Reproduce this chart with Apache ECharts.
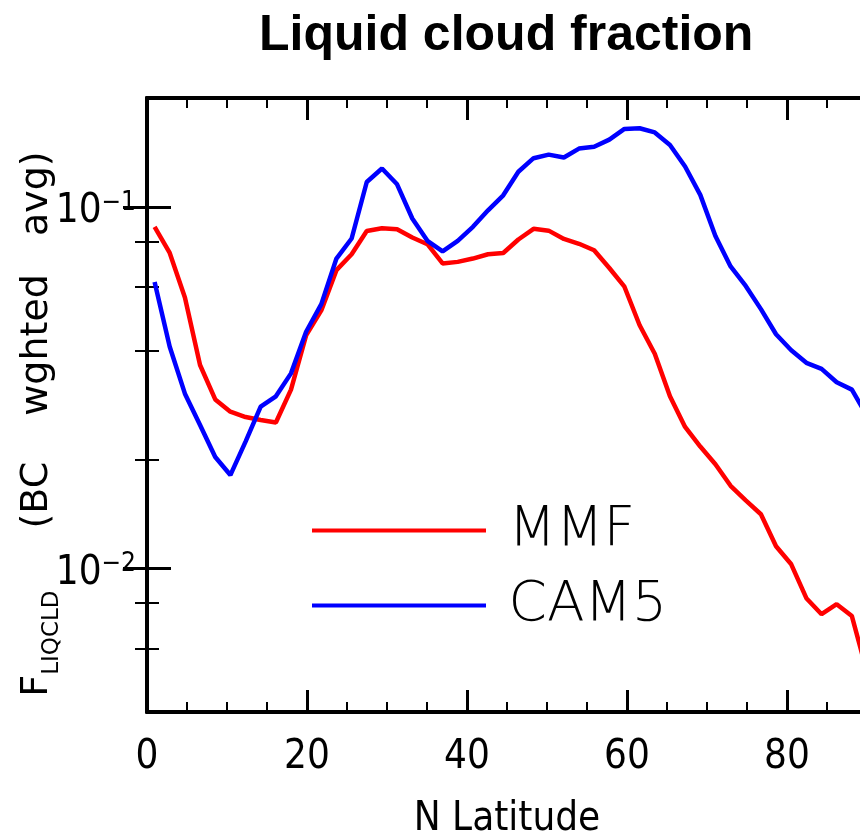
<!DOCTYPE html>
<html>
<head>
<meta charset="utf-8">
<title>Liquid cloud fraction</title>
<script src="https://cdn.jsdelivr.net/npm/echarts@6/dist/echarts.min.js"></script>
<style>
  html, body { margin: 0; padding: 0; background: #ffffff; }
  #chart { width: 860px; height: 836px; }
</style>
</head>
<body>
<div id="chart"></div>
<script>
// Latitude centres (degrees N) of the model grid rows
const lat = [0.95, 2.84, 4.74, 6.63, 8.53, 10.42, 12.32, 14.21, 16.11, 18.00,
  19.89, 21.79, 23.68, 25.58, 27.47, 29.37, 31.26, 33.16, 35.05, 36.95,
  38.84, 40.74, 42.63, 44.53, 46.42, 48.32, 50.21, 52.11, 54.00, 55.89,
  57.79, 59.68, 61.58, 63.47, 65.37, 67.26, 69.16, 71.05, 72.95, 74.84,
  76.74, 78.63, 80.53, 82.42, 84.32, 86.21, 88.11, 90.00];

// BC-weighted liquid cloud fraction, multiscale modelling framework run
const mmf = [0.0880, 0.0745, 0.0561, 0.0365, 0.0293, 0.0271, 0.0262, 0.0257, 0.0253, 0.0312,
  0.0441, 0.0517, 0.0668, 0.0739, 0.0857, 0.0872, 0.0867, 0.0822, 0.0788, 0.0697,
  0.0704, 0.0719, 0.0739, 0.0745, 0.0812, 0.0869, 0.0859, 0.0815, 0.0790, 0.0758,
  0.0677, 0.0601, 0.0470, 0.0392, 0.0299, 0.0246, 0.0217, 0.0194, 0.0169, 0.0154,
  0.0141, 0.0115, 0.01025, 0.00826, 0.00746, 0.00795, 0.00737, 0.00516];

// BC-weighted liquid cloud fraction, CAM5 run
const cam5 = [0.0619, 0.0410, 0.0304, 0.0249, 0.0203, 0.0181, 0.0224, 0.0280, 0.0299, 0.0346,
  0.0451, 0.0538, 0.0719, 0.0817, 0.1171, 0.1276, 0.1154, 0.0928, 0.0805, 0.0753,
  0.0805, 0.0880, 0.0978, 0.1076, 0.1250, 0.1363, 0.1394, 0.1369, 0.1449, 0.1466,
  0.1534, 0.1642, 0.1649, 0.1606, 0.1483, 0.1293, 0.1079, 0.0830, 0.0684, 0.0604,
  0.0521, 0.0444, 0.0401, 0.0370, 0.0356, 0.0327, 0.0312, 0.0264];

const seriesNames = ['MMF', 'CAM5'];

// Axis ticks
const xMajorTicks = [0, 20, 40, 60, 80];
const xMinorTicks = [5, 10, 15, 25, 30, 35, 45, 50, 55, 65, 70, 75, 85];
const yMajorTicks = [0.01, 0.1];
const yMinorTicks = [0.006, 0.008, 0.02, 0.04, 0.06, 0.08];
const yTickExponents = { '0.01': '−2', '0.1': '−1' };

const tickFont = '"DejaVu Sans Condensed", "DejaVu Sans", sans-serif';
const nameFont = '"DejaVu Sans", sans-serif';
const black = '#000000';

function pairs(xs, ys) {
  return xs.map((x, i) => [x, ys[i]]);
}

function xAxisDef(position, ticks, len, width, withLabels, withLine) {
  return {
    type: 'value', position: position, min: 0, max: 90,
    axisLine: { show: withLine, lineStyle: { color: black, width: 4 } },
    axisTick: { show: true, inside: true, length: len, customValues: ticks,
      lineStyle: { color: black, width: width } },
    axisLabel: withLabels
      ? { show: true, customValues: xMajorTicks, margin: 26, color: black,
          fontSize: 40, fontFamily: tickFont }
      : { show: false },
    splitLine: { show: false }
  };
}

function yAxisDef(position, ticks, len, width, withLabels, withLine) {
  return {
    type: 'log', logBase: 10, position: position, min: 0.004, max: 0.2,
    axisLine: { show: withLine, lineStyle: { color: black, width: 4 } },
    axisTick: { show: true, inside: true, length: len, customValues: ticks,
      lineStyle: { color: black, width: width } },
    axisLabel: withLabels
      ? { show: true, customValues: yMajorTicks, margin: 11, color: black,
          padding: [10, 0, 0, 0],
          formatter: v => '{b|10}{s|' + yTickExponents[String(v)] + '}',
          rich: {
            b: { fontSize: 40, lineHeight: 44, fontFamily: tickFont, color: black },
            s: { fontSize: 26, lineHeight: 26, verticalAlign: 'top', fontFamily: tickFont, color: black }
          } }
      : { show: false },
    splitLine: { show: false }
  };
}

const chart = echarts.init(document.getElementById('chart'), null, { renderer: 'canvas' });

const xBottom = xAxisDef('bottom', xMajorTicks, 22, 3, true, true);
xBottom.name = 'N Latitude';
xBottom.nameLocation = 'middle';
xBottom.nameGap = 88;
xBottom.nameTextStyle = { fontSize: 40, fontFamily: tickFont, color: black };

// Y title: F with a LIQCLD subscript, words spread along the axis
const yLeft = yAxisDef('left', yMajorTicks, 24, 3, true, true);
yLeft.name = '{f|F}{s|LIQCLD}{g1| }{t|(BC}{g2| }{t|wghted}{g3| }{t|avg)}';
yLeft.nameLocation = 'middle';
yLeft.nameRotate = 90;
yLeft.nameGap = 83;
yLeft.nameMoveOverlap = false;
yLeft.nameTextStyle = {
  color: black, fontFamily: nameFont, fontSize: 38,
  padding: [0, 38, 0, 0],
  rich: {
    f: { fontSize: 38, padding: [0, 0, 8, 0], fontFamily: nameFont, color: black },
    s: { fontSize: 23, verticalAlign: 'bottom', fontFamily: nameFont, color: black },
    g1: { fontSize: 38, width: 62, fontFamily: nameFont },
    g2: { fontSize: 38, width: 46, fontFamily: nameFont },
    g3: { fontSize: 38, width: 38, fontFamily: nameFont },
    t: { fontSize: 38, padding: [0, 0, 8, 0], fontFamily: nameFont, color: black }
  }
};

chart.setOption({
  animation: false,
  backgroundColor: '#ffffff',
  title: {
    text: 'Liquid cloud fraction',
    left: 254, top: 6,
    textStyle: { fontSize: 50, fontWeight: 'bold', color: black,
      fontFamily: '"Liberation Sans", Arial, sans-serif' }
  },
  legend: {
    data: seriesNames,
    orient: 'vertical',
    left: 312, top: 503, padding: 0,
    icon: 'rect',
    itemWidth: 174, itemHeight: 4, itemGap: 20,
    formatter: name => ' ' + name,
    textStyle: { fontSize: 55, fontWeight: 200, color: black, fontFamily: nameFont }
  },
  grid: { left: 147, top: 98, width: 720, height: 614,
    containLabel: false, outerBoundsMode: 'none' },
  xAxis: [
    xBottom,
    xAxisDef('bottom', xMinorTicks, 10, 2, false, false),
    xAxisDef('top', xMajorTicks, 22, 3, false, true),
    xAxisDef('top', xMinorTicks, 10, 2, false, false)
  ],
  yAxis: [
    yLeft,
    yAxisDef('left', yMinorTicks, 12, 2, false, false),
    yAxisDef('right', yMajorTicks, 24, 3, false, true),
    yAxisDef('right', yMinorTicks, 12, 2, false, false)
  ],
  series: [
    { name: seriesNames[0], type: 'line', xAxisIndex: 0, yAxisIndex: 0,
      data: pairs(lat, mmf), symbol: 'none', color: '#ff0000',
      lineStyle: { color: '#ff0000', width: 4.5 } },
    { name: seriesNames[1], type: 'line', xAxisIndex: 0, yAxisIndex: 0,
      data: pairs(lat, cam5), symbol: 'none', color: '#0000ff',
      lineStyle: { color: '#0000ff', width: 4.5 } }
  ]
});
</script>
</body>
</html>
